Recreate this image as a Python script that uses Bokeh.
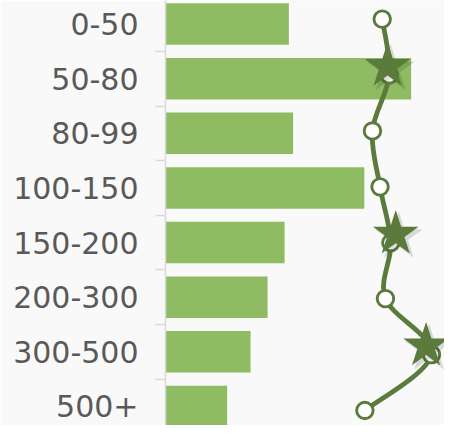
import numpy as np
from bokeh.plotting import figure
from bokeh.models import Range1d, FixedTicker
from bokeh.embed import file_html
from bokeh.resources import INLINE

# ---- data ----
categories = ["0-50", "50-80", "80-99", "100-150", "150-200", "200-300", "300-500", "500+"]
share_pct = [11.6, 23.1, 12.0, 18.7, 11.2, 9.6, 8.0, 5.8]
avg_score = [4.00, 4.13, 3.82, 3.96, 4.16, 4.06, 4.91, 3.68]
star_cats = ["50-80", "150-200", "300-500"]
star_score = [4.10, 4.25, 4.81]

# ---- layout / style ----
W, H = 444, 425
S = 0.964                      # overall scale to fit the window
AXIS_X = round(171 * S)        # frame left (axis line)
FW = W - AXIS_X
FH = H
BAR_PX_PER_UNIT = 11.03 * S
SCORE_PX_PER_UNIT = 281 * S / 5.0
band0, band_step = 24.5 * S, 56.65 * S
line0, line_step = 19.3 * S, 58.0 * S
star_dy = -9.0 * S
shadow_dx, shadow_dy = 3.0, 3.0

BG = "#f9f9f9"
BAR = "#8fbc62"
DARK = "#5a7b3b"
TEXT = "#595959"
AXIS = "#d9d9d9"


def y_range(c0, step):
    return Range1d(start=(FH - c0) / step, end=-c0 / step)


def score_range(dx=0.0):
    d = dx / SCORE_PX_PER_UNIT
    return Range1d(start=-d, end=FW / SCORE_PX_PER_UNIT - d)


p = figure(width=W, height=H, output_backend="svg", toolbar_location=None,
           x_range=Range1d(0, FW / BAR_PX_PER_UNIT),
           y_range=y_range(band0, band_step),
           x_axis_location=None,
           min_border_left=AXIS_X, min_border_right=0, min_border_top=0, min_border_bottom=0,
           background_fill_color=BG, border_fill_color=BG, outline_line_color=None)

p.extra_x_ranges = {"line": score_range(), "shadow": score_range(shadow_dx)}
p.extra_y_ranges = {"line": y_range(line0, line_step),
                    "star": y_range(line0 + star_dy, line_step),
                    "shadow": y_range(line0 + star_dy + shadow_dy, line_step)}

n = len(categories)
idx = list(range(n))

p.hbar(y=idx, left=0, right=share_pct, height=0.76, fill_color=BAR, line_color=None)

# smooth curve through the line points (Catmull-Rom -> bezier)
P = np.column_stack([np.array(avg_score, float), np.arange(n, dtype=float)])
Pe = np.vstack([P[0], P, P[-1]])
seg = {k: [] for k in ["x0", "y0", "x1", "y1", "cx0", "cy0", "cx1", "cy1"]}
for i in range(n - 1):
    p0, p1, p2, p3 = Pe[i], Pe[i + 1], Pe[i + 2], Pe[i + 3]
    c1 = p1 + (p2 - p0) / 6.0
    c2 = p2 - (p3 - p1) / 6.0
    seg["x0"].append(p1[0]); seg["y0"].append(p1[1])
    seg["x1"].append(p2[0]); seg["y1"].append(p2[1])
    seg["cx0"].append(c1[0]); seg["cy0"].append(c1[1])
    seg["cx1"].append(c2[0]); seg["cy1"].append(c2[1])
p.bezier(**seg, line_color=DARK, line_width=4.8, line_cap="round",
         x_range_name="line", y_range_name="line")

p.scatter(x=avg_score, y=idx, size=16.5, marker="circle", fill_color="white",
          line_color=DARK, line_width=2.9, x_range_name="line", y_range_name="line")

star_idx = [categories.index(c) for c in star_cats]
p.scatter(x=star_score, y=star_idx, size=51, marker="star", fill_color="black",
          fill_alpha=0.13, line_color=None, x_range_name="shadow", y_range_name="shadow")
p.scatter(x=star_score, y=star_idx, size=48, marker="star", fill_color=DARK,
          line_color=None, x_range_name="line", y_range_name="star")

p.xgrid.visible = False
p.ygrid.visible = False

ax = p.yaxis[0]
ax.ticker = FixedTicker(ticks=idx, minor_ticks=[i + 0.5 for i in range(n - 1)])
ax.major_label_overrides = {i: c for i, c in enumerate(categories)}
ax.major_label_text_font = "DejaVu Sans"
ax.major_label_text_font_size = "30px"
ax.major_label_text_color = TEXT
ax.major_tick_line_color = None
ax.major_tick_out = 0
ax.major_tick_in = 0
ax.major_label_standoff = 17
ax.minor_tick_line_color = AXIS
ax.minor_tick_line_width = 1.5
ax.minor_tick_out = 10
ax.minor_tick_in = 0
ax.axis_line_color = AXIS
ax.axis_line_width = 1.5

open("out.html", "w").write(file_html(p, INLINE))
